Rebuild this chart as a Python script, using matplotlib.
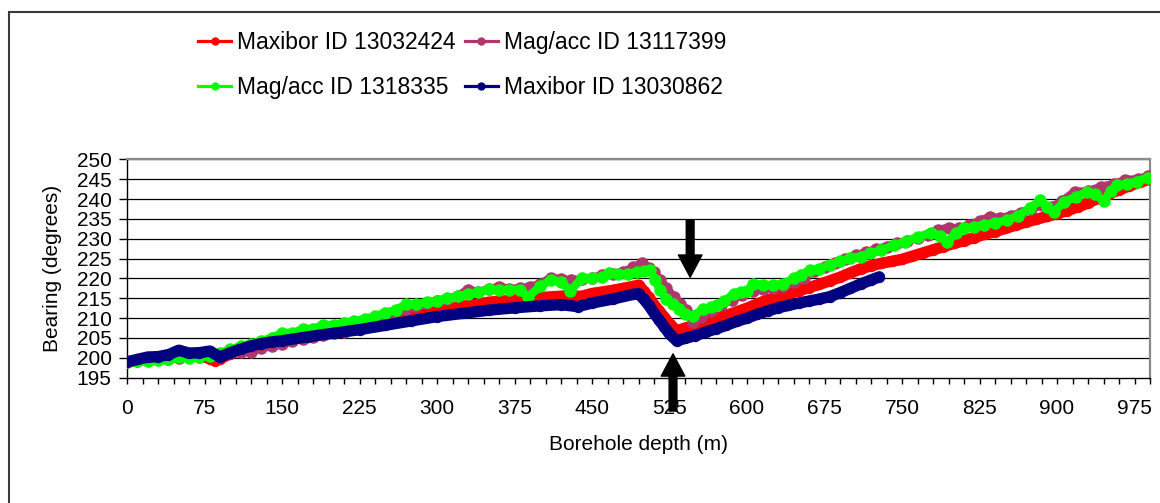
import matplotlib
matplotlib.use("Agg")
import matplotlib.pyplot as plt
from matplotlib.lines import Line2D
from matplotlib.patches import FancyArrowPatch, Rectangle, ArrowStyle
from matplotlib.ticker import MultipleLocator

plt.rcParams['font.family'] = ['Liberation Sans', 'DejaVu Sans']

# ---------------- data ----------------
labels = ["Maxibor ID 13032424", "Mag/acc ID 13117399",
          "Mag/acc ID 1318335", "Maxibor ID 13030862"]
colors = ["#FF0000", "#B0366E", "#00FF00", "#000080"]

depth_red = [0, 10, 20, 30, 40, 50, 60, 70, 80, 85, 90, 100, 110, 120, 130, 140, 150,
             175, 200, 225, 250, 275, 300, 325, 350, 375, 400, 425, 440, 450, 470, 490,
             495, 500, 505, 510, 515, 520, 525, 532, 540, 550, 560, 570, 580, 590, 600,
             610, 620, 630, 640, 650, 660, 670, 680, 690, 700, 710, 720, 730, 740, 750,
             760, 770, 780, 790, 800, 810, 820, 830, 840, 850, 860, 870, 880, 890, 900,
             910, 920, 930, 940, 950, 960, 970, 980, 990]
bearing_red = [199.0, 199.3, 199.8, 200.2, 200.5, 200.8, 200.7, 200.6, 199.8, 199.3, 199.8,
               201.0, 202.0, 203.0, 203.7, 204.1, 204.5, 205.6, 206.6, 207.7, 208.9, 210.3,
               211.7, 213.0, 214.0, 214.6, 215.2, 215.6, 215.5, 216.2, 217.0, 218.0, 218.3,
               216.8, 215.2, 213.4, 211.8, 210.2, 208.6, 206.8, 207.5, 208.2, 209.0, 209.8,
               210.7, 211.6, 212.5, 213.6, 214.6, 215.4, 216.1, 216.9, 217.7, 218.5, 219.4,
               220.3, 221.4, 222.4, 223.2, 223.8, 224.3, 224.8, 225.6, 226.4, 227.2, 228.0,
               228.8, 229.5, 230.3, 231.1, 231.8, 232.6, 233.4, 234.2, 234.9, 235.6, 236.3,
               237.1, 238.0, 239.0, 240.2, 241.3, 242.3, 243.3, 244.2, 245.0]

depth_purple = [0, 10, 20, 30, 40, 50, 60, 70, 80, 90, 100, 110, 120, 130, 140, 150, 160,
                170, 180, 190, 200, 210, 220, 230, 240, 250, 260, 270, 280, 290, 300, 310,
                320, 330, 340, 350, 360, 370, 380, 390, 400, 410, 420, 430, 440, 450, 460,
                470, 480, 490, 498, 505, 510, 516, 522, 529, 535, 541, 548, 555, 565, 575,
                585, 595, 606, 615, 625, 635, 645, 655, 665, 675, 685, 695, 705, 715, 725,
                735, 745, 755, 765, 775, 785, 795, 805, 815, 825, 835, 845, 855, 865, 875,
                885, 895, 905, 917, 930, 943, 955, 966, 978, 988]
bearing_purple = [199.0, 199.2, 199.5, 199.6, 199.8, 200.0, 200.1, 200.3, 200.6, 200.9,
                  201.2, 201.4, 201.5, 202.4, 203.0, 203.5, 204.2, 204.8, 205.3, 205.8,
                  206.2, 206.6, 207.3, 208.4, 209.5, 210.5, 211.3, 212.2, 213.0, 213.8,
                  214.4, 214.9, 215.6, 217.2, 216.6, 217.3, 217.9, 217.4, 217.5, 217.9,
                  218.6, 220.2, 219.8, 219.6, 219.8, 220.2, 220.8, 221.2, 221.6, 222.8,
                  223.8, 222.6, 221.5, 219.6, 217.5, 215.4, 213.6, 212.0, 209.0, 210.2,
                  211.8, 213.3, 214.6, 215.8, 216.8, 217.3, 217.6, 218.2, 219.0, 220.2,
                  221.8, 223.0, 224.0, 225.0, 225.8, 226.6, 227.4, 228.0, 228.8, 229.4,
                  230.3, 231.0, 232.2, 232.8, 232.6, 233.4, 234.5, 235.5, 235.2, 235.8,
                  236.5, 237.5, 238.5, 238.0, 239.5, 241.8, 242.0, 243.1, 243.8, 244.8,
                  245.0, 245.8]

depth_green = [0, 10, 20, 30, 40, 50, 60, 70, 80, 90, 100, 110, 120, 130, 140, 150, 160,
               170, 180, 190, 200, 210, 220, 230, 240, 250, 260, 270, 280, 290, 300, 310,
               320, 330, 340, 350, 360, 370, 380, 388, 400, 410, 420, 429, 440, 450, 460,
               466, 475, 485, 494, 500, 506, 511, 516, 522, 528, 534, 540, 548, 557, 565,
               571, 578, 587, 594, 600, 606, 615, 625, 635, 645, 652, 661, 670, 680, 690,
               700, 710, 719, 730, 742, 753, 765, 778, 787, 794, 802, 810, 820, 829, 840,
               852, 862, 874, 884, 890, 897, 907, 918, 929, 937, 945, 952, 958, 968, 977,
               988]
bearing_green = [199.0, 199.1, 199.3, 199.4, 199.6, 200.1, 200.0, 200.2, 200.4, 201.2,
                 202.2, 202.9, 203.6, 204.3, 205.0, 206.3, 206.2, 207.3, 207.3, 208.3,
                 208.2, 208.9, 209.2, 209.8, 210.5, 211.4, 212.0, 213.5, 213.6, 214.0,
                 214.4, 215.0, 215.5, 216.0, 216.5, 217.3, 217.1, 217.2, 217.1, 215.4,
                 218.0, 219.6, 219.2, 216.9, 220.0, 220.1, 220.3, 221.3, 221.0, 221.2,
                 221.5, 221.8, 222.1, 219.6, 217.1, 214.8, 213.5, 212.3, 211.0, 210.6,
                 212.2, 212.7, 213.3, 214.3, 216.1, 216.6, 216.8, 218.6, 218.4, 218.3,
                 218.6, 220.0, 220.9, 222.1, 222.5, 223.4, 224.3, 225.1, 225.5, 226.3,
                 227.1, 228.4, 229.2, 230.5, 231.4, 230.8, 229.2, 231.5, 232.6, 233.0,
                 233.5, 234.0, 234.7, 235.8, 237.7, 239.8, 238.0, 236.8, 239.3, 240.5,
                 241.8, 241.2, 239.5, 242.0, 243.5, 243.8, 244.4, 245.4]

depth_blue = [0, 10, 20, 30, 40, 50, 60, 70, 80, 90, 100, 110, 120, 130, 140, 150, 175,
              200, 225, 250, 275, 300, 325, 350, 375, 400, 420, 436, 450, 470, 490, 495,
              500, 505, 510, 515, 520, 525, 532, 540, 550, 560, 570, 580, 590, 600, 610,
              620, 630, 640, 650, 660, 670, 680, 690, 700, 710, 720, 728]
bearing_blue = [199.0, 199.6, 200.2, 200.3, 200.8, 201.9, 201.2, 201.3, 201.7, 200.2,
                201.3, 202.2, 203.0, 203.6, 204.0, 204.3, 205.3, 206.2, 207.1, 208.2,
                209.3, 210.4, 211.2, 212.0, 212.6, 213.1, 213.4, 212.9, 213.8, 214.8,
                216.0, 216.2, 214.8, 213.2, 211.3, 209.5, 207.8, 206.0, 204.3, 204.9,
                205.6, 206.5, 207.3, 208.2, 209.2, 210.0, 211.0, 211.8, 212.6, 213.2,
                213.8, 214.3, 214.8, 215.4, 216.4, 217.5, 218.6, 219.6, 220.4]

x_ticks = list(range(0, 991, 75))
y_ticks = list(range(195, 251, 5))

# ---------------- figure ----------------
W, H = 1160, 503
fig = plt.figure(figsize=(W / 100, H / 100), dpi=100)
fig.patch.set_facecolor("white")

# outer frame
fig.patches.append(Rectangle((9 / W, -0.05), 1.2, (1 - 11.7 / H) + 0.05,
                             transform=fig.transFigure, fill=False,
                             ec="#3a3a3a", lw=1.5, zorder=0))

ax = fig.add_axes([127 / W, 1 - 377.7 / H, (1150 - 127) / W, (377.7 - 159.3) / H])
ax.set_xlim(0, 990)
ax.set_ylim(195, 250)

series = [(depth_red, bearing_red), (depth_purple, bearing_purple),
          (depth_green, bearing_green), (depth_blue, bearing_blue)]
line_w = [8.2, 6.0, 6.0, 8.2]
mark_s = [8.2, 9.0, 9.0, 8.2]
for (d, b), c, lw, ms in zip(series, colors, line_w, mark_s):
    ax.plot(d, b, color=c, lw=lw, marker="o", ms=ms, mec=c, mfc=c, mew=0,
            solid_joinstyle="round", solid_capstyle="round", zorder=3)

# grid
for yv in y_ticks[1:]:
    ax.axhline(yv, color="black", lw=0.9, zorder=1)

for s in ["top", "right"]:
    ax.spines[s].set_color("#8a8a8a")
    ax.spines[s].set_linewidth(1.6)
for s in ["left", "bottom"]:
    ax.spines[s].set_color("black")
    ax.spines[s].set_linewidth(1.0)

ax.xaxis.set_major_locator(MultipleLocator(75))
ax.xaxis.set_minor_locator(MultipleLocator(15))
ax.set_xticks(x_ticks)
ax.set_yticks(y_ticks)
ax.tick_params(axis="x", which="both", direction="out", length=4.5, width=1,
               labelsize=15, pad=10.5)
ax.tick_params(axis="y", which="both", direction="out", length=5.5, width=1,
               labelsize=15, pad=5.5)

ax.set_xlabel("Borehole depth (m)", fontsize=15)
ax.xaxis.set_label_coords(0.5, (377.7 - 445) / (377.7 - 159.3))
ax.xaxis.label.set_va("center")
ax.set_ylabel("Bearing (degrees)", fontsize=15)
ax.yaxis.set_label_coords((52.5 - 127) / (1150 - 127), 0.5)
ax.yaxis.label.set_va("center")

# arrows
arr_down = FancyArrowPatch((545, 234.7), (545, 220.3),
                           arrowstyle=ArrowStyle.Simple(head_length=16, head_width=17,
                                                        tail_width=5.6),
                           mutation_scale=1, color="black", shrinkA=0, shrinkB=0,
                           clip_on=False, zorder=6)
arr_up = FancyArrowPatch((528.4, 186.6), (528.4, 201.0),
                         arrowstyle=ArrowStyle.Simple(head_length=16, head_width=17,
                                                      tail_width=5.6),
                         mutation_scale=1, color="black", shrinkA=0, shrinkB=0,
                         clip_on=False, zorder=6)
ax.add_patch(arr_down)
ax.add_patch(arr_up)

# legend (column 1: red, green; column 2: purple, blue)
order = [0, 2, 1, 3]
handles = [Line2D([], [], color=colors[i], lw=2.3, marker="o", ms=5) for i in order]
fig.legend(handles, [labels[i] for i in order], ncol=2, frameon=False,
           loc="center left", bbox_to_anchor=(198 / W, 1 - 65 / H),
           fontsize=16.5, handlelength=1.45, handletextpad=0.25,
           columnspacing=0.4, labelspacing=1.0, borderpad=0, borderaxespad=0)

fig.savefig("out.png", dpi=100, facecolor="white")
